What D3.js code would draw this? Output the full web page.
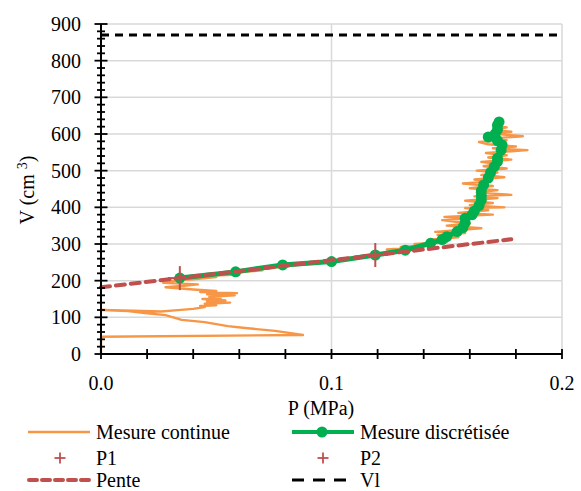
<!DOCTYPE html>
<html><head><meta charset="utf-8">
<script src="https://cdn.jsdelivr.net/npm/d3@7"></script>
<style>body{margin:0;background:#fff}svg{display:block}svg text{font-family:"Times New Roman","Liberation Serif","DejaVu Serif",serif}</style>
</head><body>
<script>
const xTicks = [0, 0.1, 0.2];
const xTickLabels = ["0.0", "0.1", "0.2"];
const yTicks = [0,100,200,300,400,500,600,700,800,900];
const vl = 870;
const pente = [[0, 182], [0.178, 313]];
const p1 = [0.0342, 207];
const p2 = [0.119, 270];
const continuous = [
 [0,0],[0,47],[0.0876,52],[0.0755,63],[0.0625,71],[0.055,76],[0.045,87],[0.035,93],[0.028,106],[0.019,112],[0.0117,117],[0.0005,120],
 [0.014,118],[0.026,116],[0.032,119],[0.040,123],[0.045,128],[0.043,131],[0.05,133],[0.045,137],[0.056,140],[0.046,143],[0.054,146],[0.044,150],[0.052,153],[0.047,156],[0.058,160],[0.046,163],[0.059,166],[0.043,169],[0.05,172],[0.04,176],[0.028,182],[0.036,186],[0.042,190],[0.027,194],
 [0.033,201],[0.04,204],[0.05,210],[0.045,213],[0.06,217],[0.056,221],[0.07,228],[0.068,232],[0.08,238],[0.085,243],[0.092,246],[0.1,251],[0.105,256],[0.112,261],[0.11,265],[0.12,270],[0.125,276],[0.128,281],[0.124,285],[0.133,289],[0.13,292],[0.14,296],[0.136,300],
 [0.150,305],[0.142,312],[0.155,318],[0.146,325],[0.158,330],[0.145,333],[0.165,343],[0.150,350],[0.160,356],[0.148,365],[0.162,370],[0.149,374],[0.170,380],[0.155,385],[0.168,392],[0.158,398],[0.175,400],[0.16,406],[0.17,412],[0.158,418],[0.172,425],[0.162,430],[0.178,434],[0.163,440],[0.172,447],[0.16,452],[0.17,458],[0.157,465],[0.168,470],[0.162,476],[0.175,482],[0.165,488],[0.172,495],[0.163,500],[0.176,506],[0.166,512],[0.172,518],[0.165,524],[0.178,530],[0.168,536],[0.176,542],[0.167,548],[0.185,556],[0.17,561],[0.18,566],[0.168,572],[0.164,578],[0.176,583],[0.17,588],[0.183,594],[0.172,600],[0.178,606],[0.171,612],[0.176,618],[0.172,622]
];
const discrete = [
 [0.0342,207],[0.0584,224],[0.0788,243],[0.1,252],[0.119,270],[0.132,283],[0.143,302],[0.148,312],[0.150,320],[0.1545,334],[0.157,345],[0.158,358],[0.158,370],[0.161,380],[0.162,390],[0.164,405],[0.165,420],[0.165,432],[0.165,445],[0.166,461],[0.168,480],[0.169,495],[0.1706,511],[0.172,525],[0.172,534],[0.1736,556],[0.174,570],[0.172,582],[0.168,592],[0.171,600],[0.172,612],[0.172,624],[0.1727,633]
];

const W = 581, H = 491;
const svg = d3.select("body").append("svg").attr("width", W).attr("height", H);
const x = d3.scaleLinear().domain([0, 0.2]).range([101, 562]);
const y = d3.scaleLinear().domain([0, 900]).range([354, 24]);

const g = svg.append("g");
g.selectAll("line.h").data(yTicks.slice(1)).join("line")
  .attr("x1", x(0)).attr("x2", x(0.2)).attr("y1", d => y(d)).attr("y2", d => y(d))
  .attr("stroke", "#d9d9d9").attr("stroke-width", 1.5);
g.selectAll("line.v").data(xTicks.slice(1)).join("line")
  .attr("x1", d => x(d)).attr("x2", d => x(d)).attr("y1", y(0)).attr("y2", y(900))
  .attr("stroke", "#d9d9d9").attr("stroke-width", 1.5);

const line = d3.line().x(d => x(d[0])).y(d => y(d[1]));

svg.append("path").datum(continuous).attr("d", line).attr("fill", "none")
  .attr("stroke", "#F79646").attr("stroke-width", 2.4).attr("stroke-linejoin", "round");

svg.append("path").datum(discrete).attr("d", line).attr("fill", "none")
  .attr("stroke", "#00B050").attr("stroke-width", 5).attr("stroke-linejoin", "round");
svg.selectAll("circle.d").data(discrete).join("circle")
  .attr("cx", d => x(d[0])).attr("cy", d => y(d[1])).attr("r", 5.5).attr("fill", "#00B050");

svg.append("path").datum(pente).attr("d", line).attr("fill", "none")
  .attr("stroke", "#C0504D").attr("stroke-width", 4).attr("stroke-dasharray", "9,6").attr("stroke-linecap", "round");

function cross(sel, cx, cy, s, w) {
  sel.append("line").attr("x1", cx - s).attr("x2", cx + s).attr("y1", cy).attr("y2", cy).attr("stroke", "#C0504D").attr("stroke-width", w);
  sel.append("line").attr("x1", cx).attr("x2", cx).attr("y1", cy - s).attr("y2", cy + s).attr("stroke", "#C0504D").attr("stroke-width", w);
}
cross(svg, x(p1[0]), y(p1[1]), 12, 2);
cross(svg, x(p2[0]), y(p2[1]), 12, 2);

svg.append("line").attr("x1", x(0)).attr("x2", x(0.2)).attr("y1", y(vl)).attr("y2", y(vl))
  .attr("stroke", "#000").attr("stroke-width", 3).attr("stroke-dasharray", "8,6");

const yAxisMinor = d3.range(0, 901, 20);
const ax = svg.append("g");
ax.append("line").attr("x1", x(0)).attr("x2", x(0)).attr("y1", y(0)).attr("y2", y(900)).attr("stroke", "#000").attr("stroke-width", 2);
ax.selectAll("line.ym").data(yAxisMinor).join("line")
  .attr("x1", d => x(0) - (d % 100 === 0 ? 6.5 : 4)).attr("x2", d => x(0) + (d % 100 === 0 ? 6.5 : 4))
  .attr("y1", d => y(d)).attr("y2", d => y(d)).attr("stroke", "#000").attr("stroke-width", 1.8);
ax.append("line").attr("x1", x(0)).attr("x2", x(0.2)).attr("y1", y(0)).attr("y2", y(0)).attr("stroke", "#000").attr("stroke-width", 2);
const xMinor = d3.range(0, 11).map(i => i * 0.02);
ax.selectAll("line.xm").data(xMinor).join("line")
  .attr("x1", d => x(d)).attr("x2", d => x(d)).attr("y1", y(0) - 5).attr("y2", y(0) + 5)
  .attr("stroke", "#000").attr("stroke-width", 1.8);

ax.selectAll("text.yl").data(yTicks).join("text")
  .attr("x", 81).attr("y", d => y(d)).attr("dy", "0.35em").attr("text-anchor", "end")
  .attr("font-size", 20).text(d => d);
ax.selectAll("text.xl").data(xTicks).join("text")
  .attr("x", d => x(d)).attr("y", 390).attr("text-anchor", "middle")
  .attr("font-size", 20).text((d, i) => xTickLabels[i]);

svg.append("text").attr("x", 321).attr("y", 415).attr("text-anchor", "middle").attr("font-size", 20).text("P (MPa)");
const yt = svg.append("text").attr("transform", "translate(34,190) rotate(-90)").attr("text-anchor", "middle").attr("font-size", 20);
yt.append("tspan").text("V (cm ");
yt.append("tspan").attr("dy", -7).attr("font-size", 14).text("3");
yt.append("tspan").attr("dy", 7).text(")");

const L = svg.append("g").attr("font-size", 20);
const r1 = 432, r2 = 458, r3 = 480;
L.append("line").attr("x1", 28).attr("x2", 90).attr("y1", r1).attr("y2", r1).attr("stroke", "#F79646").attr("stroke-width", 2.4);
L.append("text").attr("x", 96).attr("y", r1).attr("dy", "0.35em").text("Mesure continue");
L.append("line").attr("x1", 292).attr("x2", 354).attr("y1", r1).attr("y2", r1).attr("stroke", "#00B050").attr("stroke-width", 4);
L.append("circle").attr("cx", 322).attr("cy", r1).attr("r", 5.5).attr("fill", "#00B050");
L.append("text").attr("x", 360).attr("y", r1).attr("dy", "0.35em").text("Mesure discrétisée");
cross(L, 60, r2, 5.5, 1.8);
L.append("text").attr("x", 96).attr("y", r2).attr("dy", "0.35em").text("P1");
cross(L, 323, r2, 5.5, 1.8);
L.append("text").attr("x", 360).attr("y", r2).attr("dy", "0.35em").text("P2");
L.append("line").attr("x1", 29).attr("x2", 89).attr("y1", r3).attr("y2", r3).attr("stroke", "#C0504D").attr("stroke-width", 4).attr("stroke-dasharray", "8,5").attr("stroke-linecap", "round");
L.append("text").attr("x", 96).attr("y", r3).attr("dy", "0.35em").text("Pente");
L.append("line").attr("x1", 292).attr("x2", 354).attr("y1", r3).attr("y2", r3).attr("stroke", "#000").attr("stroke-width", 3).attr("stroke-dasharray", "12,9");
L.append("text").attr("x", 360).attr("y", r3).attr("dy", "0.35em").text("Vl");
</script>
</body></html>
